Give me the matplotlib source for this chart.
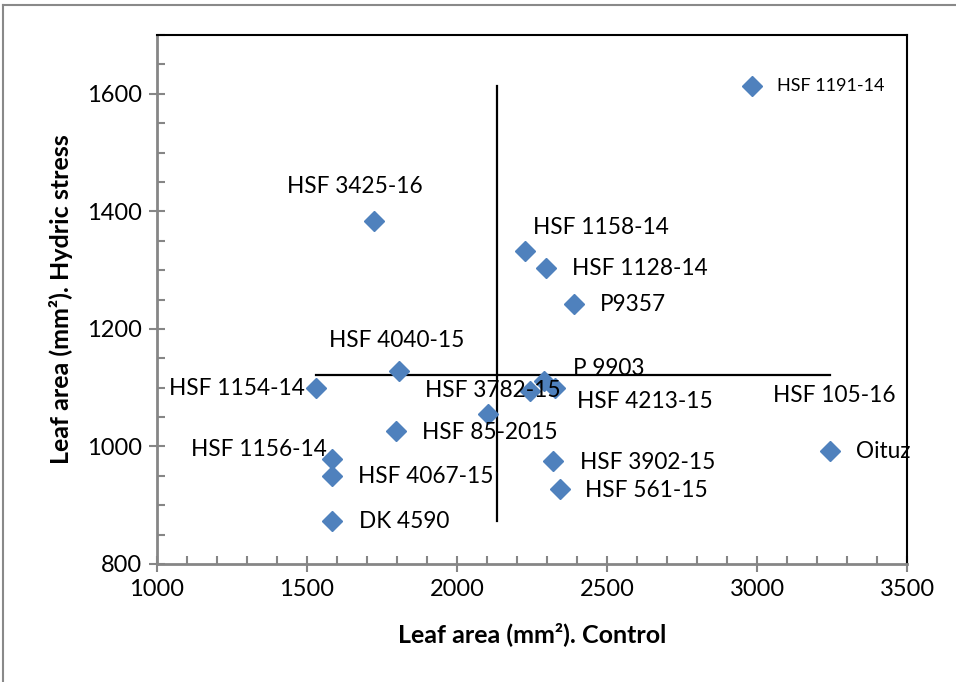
import matplotlib.pyplot as plt
from matplotlib.ticker import MultipleLocator
from matplotlib.lines import Line2D

plt.rcParams['font.family'] = ['Lato', 'DejaVu Sans']

names = ["HSF 1191-14", "HSF 3425-16", "HSF 1158-14", "HSF 1128-14", "P9357",
         "HSF 4040-15", "HSF 1154-14", "P 9903", "HSF 4213-15", "HSF 105-16",
         "HSF 3782-15", "HSF 85-2015", "HSF 1156-14", "HSF 4067-15", "DK 4590",
         "HSF 3902-15", "HSF 561-15", "Oituz"]
control = [2983, 1723, 2227, 2297, 2390,
           1807, 1530, 2290, 2327, 2243,
           2103, 1797, 1583, 1583, 1583,
           2320, 2343, 3243]
stress = [1614, 1383, 1332, 1303, 1242,
          1129, 1099, 1111, 1099, 1094,
          1055, 1026, 978, 950, 873,
          975, 927, 992]

# label placement (offset in pixels, horizontal alignment)
label_pos = [(25, 0, "left"), (-19, 35, "center"), (8, 24, "left"), (26, 0, "left"), (26, 0, "left"),
             (-2, 30, "center"), (-11, 0, "right"), (29, 13, "left"), (22, -13, "left"), (243, -4, "left"),
             (5, 24, "center"), (26, -1, "left"), (-5, 10, "right"), (26, -1, "left"), (27, 0, "left"),
             (27, -1, "left"), (25, -1, "left"), (26, 0, "left")]

fig = plt.figure(figsize=(9.56, 6.82), dpi=100)
ax = fig.add_axes([157 / 956, 118 / 682, 750 / 956, 529 / 682])

# mean cross lines
mx = sum(control) / len(control)
my = sum(stress) / len(stress)
ax.plot([min(control), max(control)], [my, my], color="black", lw=1.6, zorder=2)
ax.plot([mx, mx], [min(stress), max(stress)], color="black", lw=1.6, zorder=2)

ax.plot(control, stress, linestyle="none", marker="D", ms=10, color="#4F81BD", zorder=3)

for i, n in enumerate(names):
    dx, dy, ha = label_pos[i]
    fs = 13 if i == 0 else 16.3
    ax.annotate(n, (control[i], stress[i]), xytext=(dx, dy), textcoords="offset pixels",
                ha=ha, va="center", fontsize=fs, color="black", zorder=4)

ax.set_xlim(1000, 3500)
ax.set_ylim(800, 1700)
ax.set_xticks([1000, 1500, 2000, 2500, 3000, 3500])
ax.set_yticks([800, 1000, 1200, 1400, 1600])
ax.xaxis.set_minor_locator(MultipleLocator(100))
ax.yaxis.set_minor_locator(MultipleLocator(50))
ax.tick_params(axis="both", which="major", direction="inout", length=12, width=1.5,
               color="#868686", labelsize=17, pad=5)
ax.tick_params(axis="both", which="minor", direction="in", length=6, width=1.5, color="#868686")

for s in ["left", "bottom"]:
    ax.spines[s].set_color("#868686")
    ax.spines[s].set_linewidth(2)
for s in ["top", "right"]:
    ax.spines[s].set_color("black")
    ax.spines[s].set_linewidth(1.5)

ax.set_xlabel("Leaf area (mm²). Control", fontsize=18, fontweight="bold", labelpad=16)
ax.set_ylabel("Leaf area (mm²). Hydric stress", fontsize=18, fontweight="bold", labelpad=10)

# outer chart border
fig.add_artist(Line2D([3 / 956, 3 / 956], [0, 677 / 682], color="#898989", lw=1.5))
fig.add_artist(Line2D([3 / 956, 1], [677 / 682, 677 / 682], color="#898989", lw=1.5))

fig.savefig("out.png", dpi=100)
